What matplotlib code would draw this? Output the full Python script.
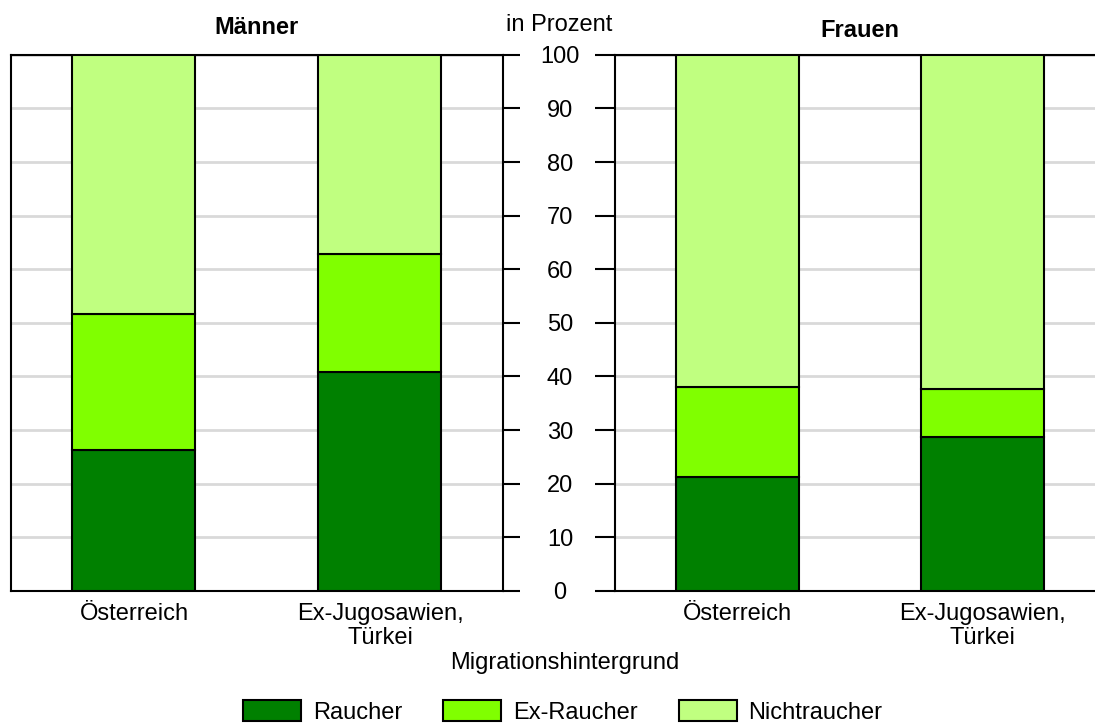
import matplotlib.pyplot as plt
from matplotlib.patches import Patch

plt.rcParams['font.family'] = ['Liberation Sans', 'DejaVu Sans']

# Anteile in Prozent
gruppen = ['Österreich', 'Ex-Jugosawien,\nTürkei']
maenner_raucher = [26.3, 40.9]
maenner_ex = [25.3, 21.9]
maenner_nicht = [48.4, 37.2]
frauen_raucher = [21.2, 28.8]
frauen_ex = [16.8, 8.8]
frauen_nicht = [62.0, 62.4]

kategorien = ['Raucher', 'Ex-Raucher', 'Nichtraucher']
farben = ['#008000', '#80ff00', '#c0ff80']
y_ticks = [0, 10, 20, 30, 40, 50, 60, 70, 80, 90, 100]

FS = 17

fig = plt.figure(figsize=(10.95, 7.25), dpi=100)
ax_m = fig.add_axes([0.010, 0.185, 0.4493, 0.7393])
ax_f = fig.add_axes([0.5616, 0.185, 0.4475, 0.7393])


def gestapelt(ax, werte):
    x = range(len(gruppen))
    unten = [0] * len(gruppen)
    for reihe, farbe in zip(werte, farben):
        ax.bar(x, reihe, bottom=unten, width=0.5, color=farbe,
               edgecolor='black', linewidth=1.5, zorder=3)
        unten = [u + r for u, r in zip(unten, reihe)]
    ax.set_xlim(-0.5, 1.5)
    ax.set_ylim(0, 100)
    ax.set_yticks(y_ticks)
    ax.set_xticks(list(x))
    ax.set_xticklabels(gruppen, fontsize=FS, linespacing=1.1)
    ax.tick_params(axis='x', length=0, pad=9)
    ax.grid(axis='y', color='#d9d9d9', linewidth=2, zorder=0)
    for s in ax.spines.values():
        s.set_linewidth(1.5)


gestapelt(ax_m, [maenner_raucher, maenner_ex, maenner_nicht])
gestapelt(ax_f, [frauen_raucher, frauen_ex, frauen_nicht])

# Achsenbeschriftung mittig zwischen den beiden Diagrammen
ax_m.yaxis.tick_right()
ax_m.tick_params(axis='y', direction='out', length=12, width=1.5,
                 labelsize=FS, pad=29)
for lbl in ax_m.get_yticklabels():
    lbl.set_horizontalalignment('center')
ax_f.tick_params(axis='y', direction='out', length=14.5, width=1.5,
                 labelleft=False)
ax_f.spines['right'].set_visible(False)

ax_m.set_title('Männer', fontsize=FS, fontweight='bold', pad=15)
ax_f.set_title('Frauen', fontsize=FS, fontweight='bold', pad=13)
fig.text(0.511, 0.965, 'in Prozent', fontsize=FS, ha='center', va='center')
fig.text(0.516, 0.085, 'Migrationshintergrund', fontsize=FS,
         ha='center', va='center')

handles = [Patch(facecolor=f, edgecolor='black', linewidth=1.5) for f in farben]
fig.legend(handles, kategorien, loc='center', bbox_to_anchor=(0.514, 0.018),
           ncol=3, frameon=False, fontsize=FS, handlelength=2.45,
           handleheight=0.95, columnspacing=1.75, handletextpad=0.5)

fig.savefig('out.png', dpi=100)
